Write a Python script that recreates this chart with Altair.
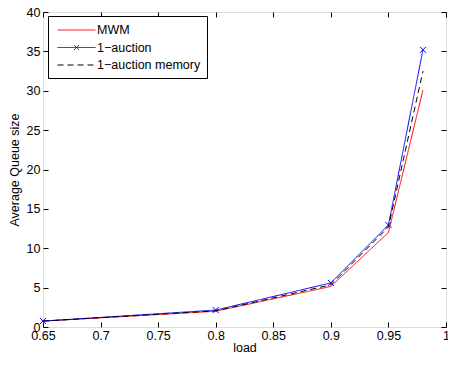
import altair as alt
import pandas as pd

loads = [0.65, 0.8, 0.9, 0.95, 0.98]
mwm = [0.75, 2.0, 5.15, 12.0, 30.1]
auction = [0.75, 2.15, 5.6, 12.95, 35.2]
memory = [0.75, 2.05, 5.35, 12.7, 32.5]
series = ["MWM", "1\u2212auction", "1\u2212auction memory"]
colors = ["#ff0000", "#0000ff", "#000000"]
dashes = [[1, 0], [1, 0], [6, 4]]
legend_shapes = [
    "M-2.53,0L2.53,0",
    "M-2.53,0L2.53,0M-0.33,-0.33L0.33,0.33M-0.33,0.33L0.33,-0.33",
    "M-2.53,0L2.53,0",
]
x_ticks = [0.65, 0.7, 0.75, 0.8, 0.85, 0.9, 0.95, 1.0]
y_ticks = [0, 5, 10, 15, 20, 25, 30, 35, 40]

rows = []
for name, vals in zip(series, [mwm, auction, memory]):
    for l, v in zip(loads, vals):
        rows.append({"load": l, "q": v, "series": name, "name": name})
df = pd.DataFrame(rows)

FONT = "Liberation Sans"
FS = 12.5
AX = dict(labelFont=FONT, titleFont=FONT, labelFontSize=FS, titleFontSize=FS,
          titleFontWeight="normal", labelColor="black", titleColor="black",
          tickColor="black", domain=False, grid=False, offset=-5, tickSize=5)
HIDDEN = dict(labels=False, ticks=False, domain=False, grid=False)

xscale = alt.Scale(domain=[0.65, 1.0], nice=False, zero=False)
yscale = alt.Scale(domain=[0, 40], nice=False)

base = alt.Chart(df)

lines = base.mark_line(strokeWidth=1, clip=True).encode(
    x=alt.X("load:Q", scale=xscale, title="load",
            axis=alt.Axis(values=x_ticks, orient="bottom", labelPadding=2,
                          titlePadding=0, format="~g", labelFlush=False, **AX)),
    y=alt.Y("q:Q", scale=yscale, title="Average Queue size",
            axis=alt.Axis(values=y_ticks, orient="left", labelPadding=3,
                          titlePadding=5, labelFlush=False, **AX)),
    color=alt.Color("series:N", sort=series,
                    scale=alt.Scale(domain=series, range=colors), legend=None),
    strokeDash=alt.StrokeDash("series:N", sort=series,
                              scale=alt.Scale(domain=series, range=dashes), legend=None),
    order="load:Q",
)

pts = alt.Chart(df[df["series"] == series[1]]).mark_point(
    shape="M-1,-1L1,1M-1,1L1,-1", filled=False, size=36, strokeWidth=1,
    color="#0000ff", opacity=1,
).encode(
    x=alt.X("load:Q", scale=xscale, title=None, axis=alt.Axis(**HIDDEN)),
    y=alt.Y("q:Q", scale=yscale, title=None, axis=alt.Axis(**HIDDEN)),
)

leg = alt.Legend(title=None, orient="none", legendX=5, legendY=4,
                 fillColor="white", strokeColor="black", padding=6,
                 symbolSize=225, symbolOffset=14.5, labelOffset=12.5,
                 symbolStrokeWidth=1, symbolOpacity=1,
                 symbolFillColor="transparent",
                 labelFont=FONT, labelFontSize=FS, labelColor="black",
                 rowPadding=2.5)

legend_layer = base.mark_point(opacity=0, filled=False).encode(
    x=alt.X("load:Q", scale=xscale, title=None, axis=alt.Axis(**HIDDEN)),
    y=alt.Y("q:Q", scale=yscale, title=None, axis=alt.Axis(**HIDDEN)),
    color=alt.Color("name:N", sort=series,
                    scale=alt.Scale(domain=series, range=colors), legend=leg),
    strokeDash=alt.StrokeDash("name:N", sort=series,
                              scale=alt.Scale(domain=series, range=dashes), legend=leg),
    shape=alt.Shape("name:N", sort=series,
                    scale=alt.Scale(domain=series, range=legend_shapes), legend=leg),
)

frame = base.mark_point(opacity=0).encode(
    x=alt.X("load:Q", scale=xscale, title=None,
            axis=alt.Axis(values=x_ticks, orient="top", labels=False, **AX)),
    y=alt.Y("q:Q", scale=yscale, title=None,
            axis=alt.Axis(values=y_ticks, orient="right", labels=False, **AX)),
)

chart = alt.layer(lines, pts, legend_layer, frame).resolve_axis(
    x="independent", y="independent"
).resolve_scale(
    color="independent", strokeDash="independent", shape="independent"
).properties(
    width=403, height=315,
    autosize=alt.AutoSizeParams(type="none"),
    padding={"left": 35, "top": 4, "right": 2, "bottom": 25},
).configure_view(
    stroke="black", strokeWidth=1
).configure(background="white")

chart.save("out.html", embed_options={"renderer": "svg", "actions": False})
